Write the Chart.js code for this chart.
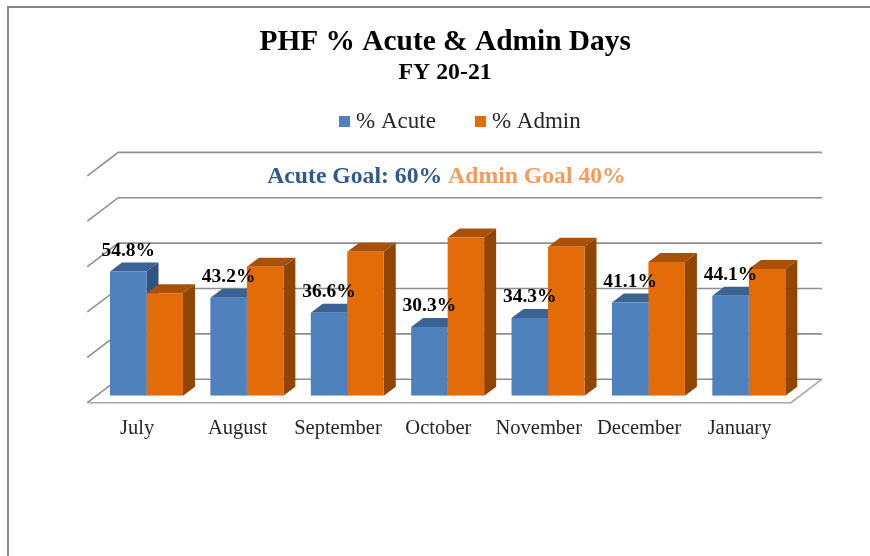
<!DOCTYPE html>
<html><head><meta charset="utf-8">
<style>html,body{margin:0;padding:0;background:#fff}#w{width:870px;height:556px;position:relative}</style>
<script src="https://cdn.jsdelivr.net/npm/chart.js@4"></script>
</head><body><div id="w"><canvas id="c" width="870" height="556"></canvas></div>
<script>
const months = ["July","August","September","October","November","December","January"];
const acute = [54.8,43.2,36.6,30.3,34.3,41.1,44.1];
const admin = [45.2,56.8,63.4,69.7,65.7,58.9,55.9];
const yTicks = [0,20,40,60,80,100];
const seriesNames = ['% Acute','% Admin'];
const seriesColors = ['#4f81bd','#e36c09'];
const SERIF = '"Liberation Serif","Times New Roman",serif';
const DEPTH_X = 12, DEPTH_Y = 9;      // bar extrusion
const WALL_X = 22, WALL_Y = 16.5;     // back wall offset from bar plane
const FLOOR_X = 31, FLOOR_Y = 23.5;   // side wall diagonal
const shades = [
  {top:'#3a6293',side:'#2f5382'},
  {top:'#ab5107',side:'#8f4504'}
];
function swatch(color){const c=document.createElement('canvas');c.width=11;c.height=11;const g=c.getContext('2d');g.fillStyle=color;g.fillRect(0,0,11,11);return c;}
const swatches = seriesColors.map(swatch);
function poly(ctx,pts,fill){ctx.beginPath();pts.forEach((p,i)=>i?ctx.lineTo(p[0],p[1]):ctx.moveTo(p[0],p[1]));ctx.closePath();ctx.fillStyle=fill;ctx.fill();}
const scene = {
  id:'scene',
  afterLayout(chart){
    const dxT=-2.5, dxL=15, dyL=-25.5;
    [chart.titleBlock].forEach(b=>{b.left+=dxT;b.right+=dxT;});
    const sub=chart.boxes.find(b=>b.options&&b.options.text==='FY 20-21');
    if(sub){sub.left+=dxT;sub.right+=dxT;}
    const l=chart.legend;l.left+=dxL;l.right+=dxL;l.top+=dyL;l.bottom+=dyL;
  },
  beforeDatasetsDraw(chart){
    const ctx=chart.ctx,{left,right}=chart.chartArea,y=chart.scales.y;
    ctx.save();
    ctx.strokeStyle='#888888';ctx.lineWidth=2;
    ctx.beginPath();ctx.moveTo(8,556);ctx.lineTo(8,7);ctx.lineTo(870,7);ctx.stroke();
    const backL=left+WALL_X, backR=right+WALL_X+1;
    ctx.lineWidth=1.6;ctx.strokeStyle='#8f8f8f';
    yTicks.forEach(v=>{
      const py=y.getPixelForValue(v)-WALL_Y;
      ctx.beginPath();ctx.moveTo(backR,py);ctx.lineTo(backL,py);ctx.lineTo(backL-FLOOR_X,py+FLOOR_Y);ctx.stroke();
    });
    const by=y.getPixelForValue(0)-WALL_Y;
    ctx.strokeStyle='#a6a6a6';
    ctx.beginPath();ctx.moveTo(backL-FLOOR_X,by+FLOOR_Y);ctx.lineTo(backR-FLOOR_X,by+FLOOR_Y);ctx.lineTo(backR,by);ctx.stroke();
    chart.data.datasets.forEach((d,i)=>{
      chart.getDatasetMeta(i).data.forEach(b=>{
        const l=b.x-b.width/2,r=b.x+b.width/2,t=b.y,bs=b.base;
        poly(ctx,[[l,t],[r,t],[r+DEPTH_X,t-DEPTH_Y],[l+DEPTH_X,t-DEPTH_Y]],shades[i].top);
        poly(ctx,[[r,t],[r+DEPTH_X,t-DEPTH_Y],[r+DEPTH_X,bs-DEPTH_Y],[r,bs]],shades[i].side);
      });
    });
    ctx.restore();
  },
  afterDatasetsDraw(chart){
    const ctx=chart.ctx;
    ctx.save();
    ctx.textBaseline='middle';ctx.textAlign='left';
    ctx.font='bold 23.7px '+SERIF;
    const a='Acute Goal: 60% ',b='Admin Goal 40%';
    const w=ctx.measureText(a).width+ctx.measureText(b).width,x0=446.5-w/2;
    ctx.fillStyle='#2f5a8f';ctx.fillText(a,x0,176.5);
    ctx.fillStyle='#f79b5a';ctx.fillText(b,x0+ctx.measureText(a).width,176.5);
    ctx.font='bold 19.5px '+SERIF;ctx.textAlign='center';ctx.fillStyle='#000';
    chart.getDatasetMeta(0).data.forEach((el,i)=>{
      ctx.fillText(acute[i].toFixed(1)+'%',el.x,el.y-20.5);
    });
    ctx.restore();
  }
};
new Chart(document.getElementById('c'),{
  type:'bar',
  data:{labels:months,datasets:[
    {label:seriesNames[0],data:acute,backgroundColor:seriesColors[0],borderWidth:0,categoryPercentage:0.727,barPercentage:1},
    {label:seriesNames[1],data:admin,backgroundColor:seriesColors[1],borderWidth:0,categoryPercentage:0.727,barPercentage:1}
  ]},
  options:{
    responsive:false,animation:false,
    layout:{padding:{left:96.3,right:71,top:0,bottom:102.3}},
    scales:{
      x:{grid:{display:false},border:{display:false},
         ticks:{autoSkip:false,maxRotation:0,labelOffset:-9.3,padding:12.7,color:'#262626',font:{family:SERIF,size:20.5}}},
      y:{display:false,min:0,max:100,ticks:{stepSize:20}}
    },
    plugins:{
      title:{display:true,text:'PHF % Acute & Admin Days',color:'#000',font:{family:SERIF,size:29.4,weight:'bold',lineHeight:1.2},padding:{top:25,bottom:0}},
      subtitle:{display:true,text:'FY 20-21',color:'#000',font:{family:SERIF,size:23.8,weight:'bold',lineHeight:1.2},padding:{top:-2,bottom:4.5}},
      legend:{display:true,position:'top',labels:{usePointStyle:true,boxWidth:0.01,boxHeight:11,padding:44.5,color:'#262626',font:{family:SERIF,size:23},
        generateLabels(chart){
          return Chart.defaults.plugins.legend.labels.generateLabels(chart).map((it,i)=>Object.assign(it,{pointStyle:swatches[i]}));
        }}},
      tooltip:{enabled:false}
    }
  },
  plugins:[scene]
});
</script></body></html>
